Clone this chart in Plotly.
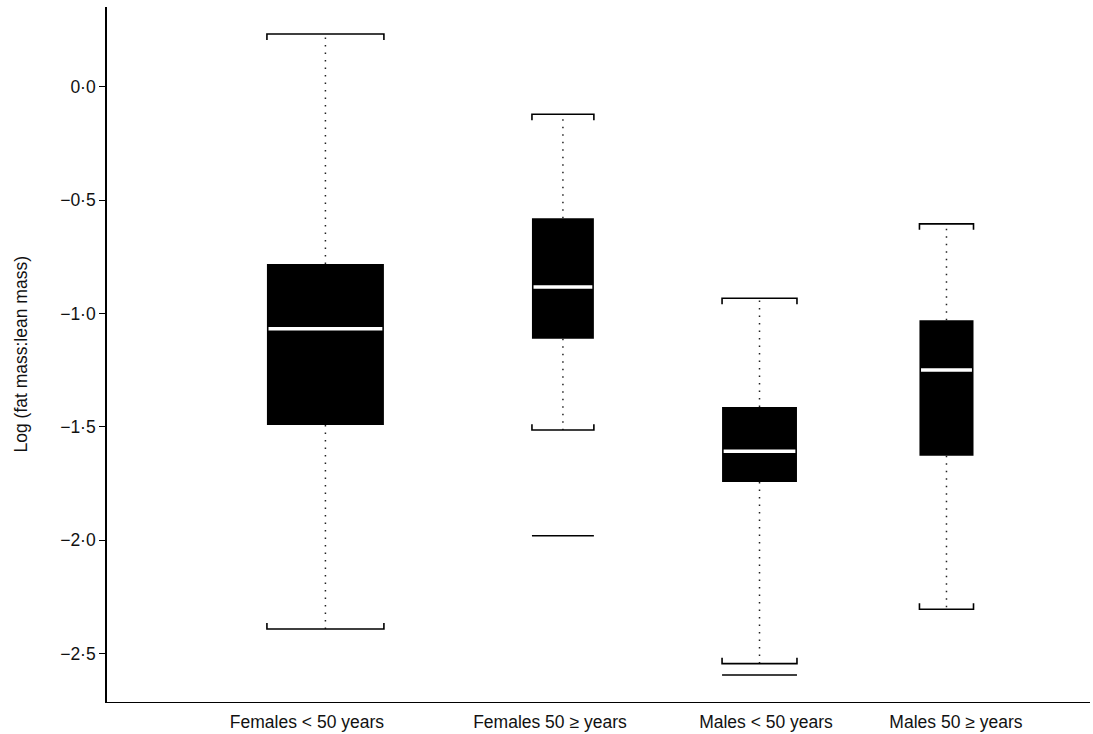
import plotly.graph_objects as go

# ---- data ----
categories = ["Females < 50 years", "Females 50 \u2265 years", "Males < 50 years", "Males 50 \u2265 years"]
lower_whisker = [-2.391, -1.514, -2.544, -2.304]
q1 = [-1.492, -1.112, -1.743, -1.627]
median = [-1.067, -0.883, -1.608, -1.249]
q3 = [-0.782, -0.580, -1.412, -1.030]
upper_whisker = [0.232, -0.122, -0.933, -0.605]
outliers = [[], [-1.98], [-2.594], []]

y_tick_vals = [0.0, -0.5, -1.0, -1.5, -2.0, -2.5]
y_tick_text = ["0\u00b70", "\u22120\u00b75", "\u22121\u00b70", "\u22121\u00b75", "\u22122\u00b70", "\u22122\u00b75"]

# ---- layout constants (axis units) ----
box_centers = [1.111, 2.319, 3.319, 4.270]
box_widths = [0.595, 0.315, 0.381, 0.275]
label_pos = [1.017, 2.253, 3.352, 4.318]
cap_end = 0.026
median_inset = 0.008

FONT = "Liberation Sans, Arial, Helvetica, sans-serif"
FS = 17.5

fig = go.Figure()

# boxes (interquartile range)
fig.add_trace(go.Bar(
    x=box_centers,
    base=q1,
    y=[b - a for a, b in zip(q1, q3)],
    width=box_widths,
    marker=dict(color="black", line=dict(width=0)),
    hoverinfo="skip",
))

# dotted whiskers
wx, wy = [], []
for c, lo, a, b, hi in zip(box_centers, lower_whisker, q1, q3, upper_whisker):
    wx += [c, c, None, c, c, None]
    wy += [b, hi, None, a, lo, None]
fig.add_trace(go.Scatter(
    x=wx, y=wy, mode="lines",
    line=dict(color="#222222", width=1.5, dash="1.5px,6px"),
    hoverinfo="skip",
))

# whisker caps (bracket shaped)
cx, cy = [], []
for c, w, lo, hi in zip(box_centers, box_widths, lower_whisker, upper_whisker):
    l, r = c - w / 2, c + w / 2
    cx += [l, l, r, r, None]
    cy += [hi - cap_end, hi, hi, hi - cap_end, None]
    cx += [l, l, r, r, None]
    cy += [lo + cap_end, lo, lo, lo + cap_end, None]
fig.add_trace(go.Scatter(
    x=cx, y=cy, mode="lines",
    line=dict(color="black", width=1.6),
    hoverinfo="skip",
))

# outliers drawn as plain horizontal lines
ox, oy = [], []
for c, w, outs in zip(box_centers, box_widths, outliers):
    for o in outs:
        ox += [c - w / 2, c + w / 2, None]
        oy += [o, o, None]
fig.add_trace(go.Scatter(
    x=ox, y=oy, mode="lines",
    line=dict(color="black", width=1.3),
    hoverinfo="skip",
))

# medians (white)
mx, my = [], []
for c, w, m in zip(box_centers, box_widths, median):
    mx += [c - w / 2 + median_inset, c + w / 2 - median_inset, None]
    my += [m, m, None]
fig.add_trace(go.Scatter(
    x=mx, y=my, mode="lines",
    line=dict(color="white", width=3.5),
    hoverinfo="skip",
))

fig.update_layout(
    width=1093, height=734,
    margin=dict(l=107, r=3, t=7, b=32),
    paper_bgcolor="white", plot_bgcolor="white",
    showlegend=False,
    font=dict(family=FONT, size=FS, color="#111111"),
    xaxis=dict(
        range=[0, 5], showgrid=False, zeroline=False,
        showline=True, linecolor="black", linewidth=1.4,
        tickmode="array", tickvals=label_pos, ticktext=categories,
        ticks="", ticklabelstandoff=4, tickfont=dict(size=FS, color="#111111"),
    ),
    yaxis=dict(
        range=[-2.713, 0.351], showgrid=False, zeroline=False,
        showline=True, linecolor="black", linewidth=1.6,
        tickmode="array", tickvals=y_tick_vals, ticktext=y_tick_text,
        ticks="outside", ticklen=6, tickcolor="black", tickwidth=1,
        tickfont=dict(size=FS, color="#111111"),
    ),
    annotations=[dict(
        text="Log (fat mass:lean mass)",
        xref="paper", yref="paper",
        x=-0.0885, y=0.5, xanchor="center", yanchor="middle",
        textangle=-90, showarrow=False,
        font=dict(family=FONT, size=FS, color="#111111"),
    )],
)

fig.write_html(
    "out.html",
    config={"displayModeBar": False},
    post_script="document.body.style.margin='0px';",
)
